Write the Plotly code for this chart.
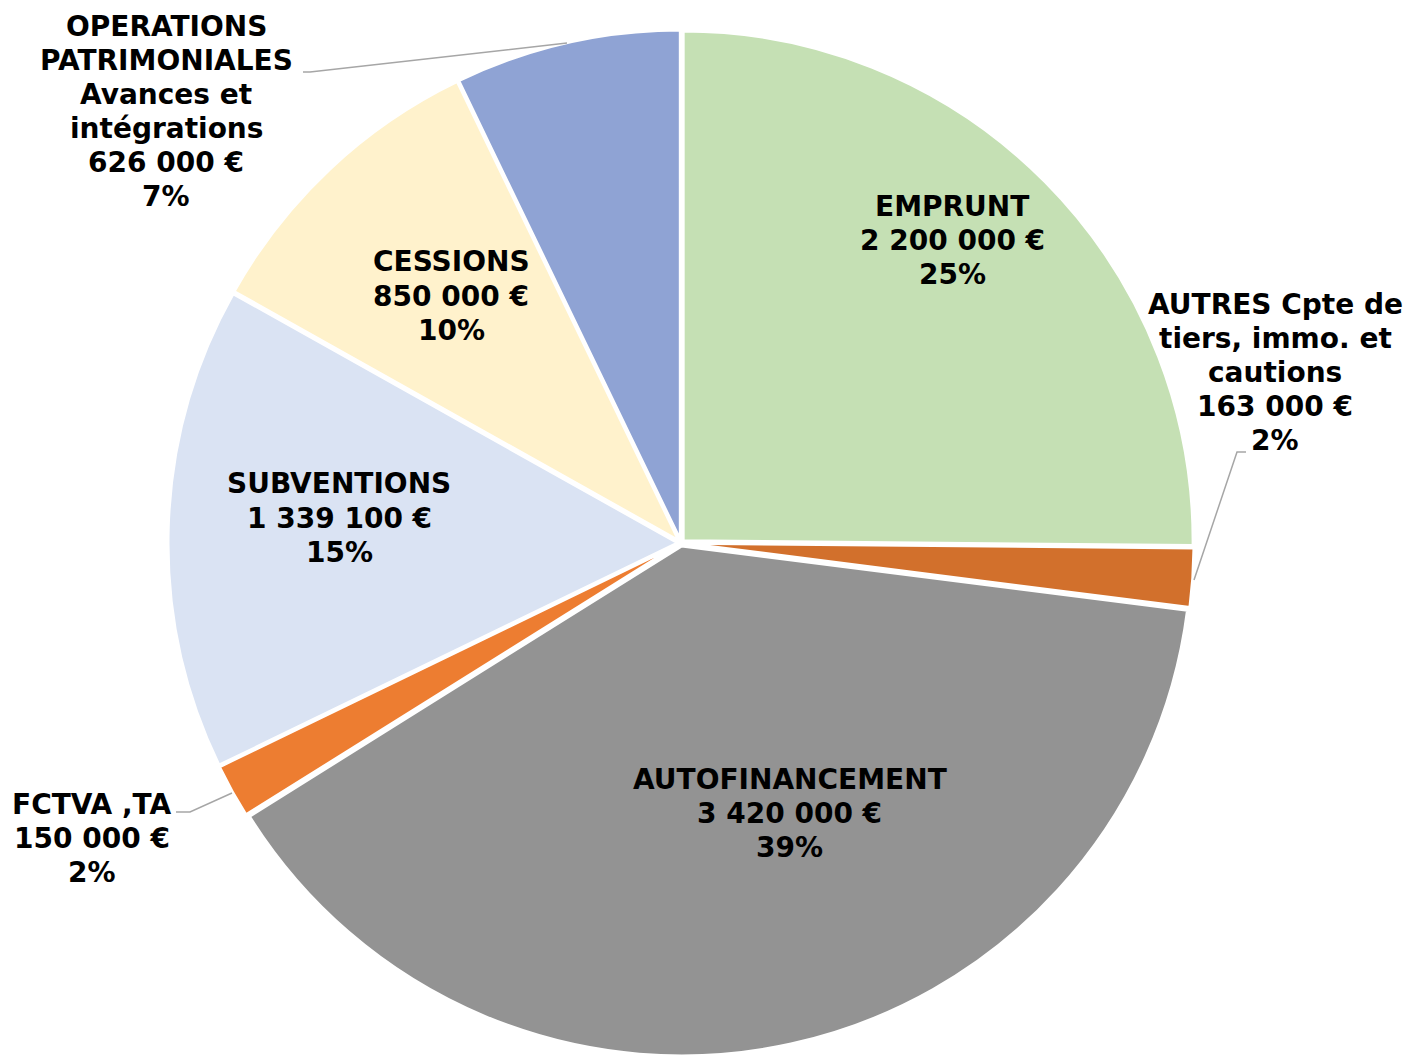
import plotly.graph_objects as go

categories = ["EMPRUNT", "AUTRES Cpte de tiers, immo. et cautions", "AUTOFINANCEMENT",
              "FCTVA ,TA", "SUBVENTIONS", "CESSIONS",
              "OPERATIONS PATRIMONIALES Avances et intégrations"]
label_lines = [["EMPRUNT"], ["AUTRES Cpte de", "tiers, immo. et", "cautions"], ["AUTOFINANCEMENT"],
               ["FCTVA ,TA"], ["SUBVENTIONS"], ["CESSIONS"],
               ["OPERATIONS", "PATRIMONIALES", "Avances et", "intégrations"]]
values = [2200000, 163000, 3420000, 150000, 1339100, 850000, 626000]
colors = ["#C5E0B4", "#D2702C", "#939393", "#ED7D31", "#DAE3F3", "#FFF2CC", "#8FA3D4"]

W, H = 1415, 1056
OFF = 8  # page body margin
LINE = 34.2
total = sum(values)


def px2paper(x, y):
    return (x - OFF) / W, 1 - (y - OFF) / H


cx, cy, half = 681 - OFF, 543 - OFF, 513
fig = go.Figure(go.Pie(
    labels=categories, values=values, sort=False, direction="clockwise", rotation=0,
    marker=dict(colors=colors, line=dict(color="white", width=3)),
    textinfo="none", hoverinfo="skip", pull=[0.006] * len(values),
    domain=dict(x=[(cx - half) / W, (cx + half) / W],
                y=[(H - cy - half) / H, (H - cy + half) / H]),
    showlegend=False,
))

# label positions in pixels (centre x, y of first line)
label_pos = [(952, 206), (1275, 304), (790, 779), (92, 804), (339, 484), (451, 262), (166, 26)]
for lines, v, (px, py) in zip(label_lines, values, label_pos):
    pct = round(v / total * 100)
    all_lines = lines + [f"{v:,}".replace(",", " ") + " €", f"{pct}%"]
    for i, line in enumerate(all_lines):
        x, y = px2paper(px, py + i * LINE)
        fig.add_annotation(x=x, y=y, xref="paper", yref="paper", text="<b>" + line + "</b>",
                           showarrow=False, xanchor="center", yanchor="middle", align="center",
                           font=dict(family="DejaVu Sans", size=28, color="black"))

# leader lines
leaders = [
    [(303, 72), (310, 72), (567, 43)],
    [(1246, 452), (1237, 452), (1194, 580)],
    [(176, 812), (190, 812), (232, 793)],
]
for pts in leaders:
    path = "M " + " L ".join("{},{}".format(*px2paper(x, y)) for x, y in pts)
    fig.add_shape(type="path", path=path, xref="paper", yref="paper",
                  line=dict(color="#A6A6A6", width=1.5))

fig.update_layout(width=W, height=H, margin=dict(l=0, r=0, t=0, b=0),
                  paper_bgcolor="white", plot_bgcolor="white")
fig.write_html("out.html")
